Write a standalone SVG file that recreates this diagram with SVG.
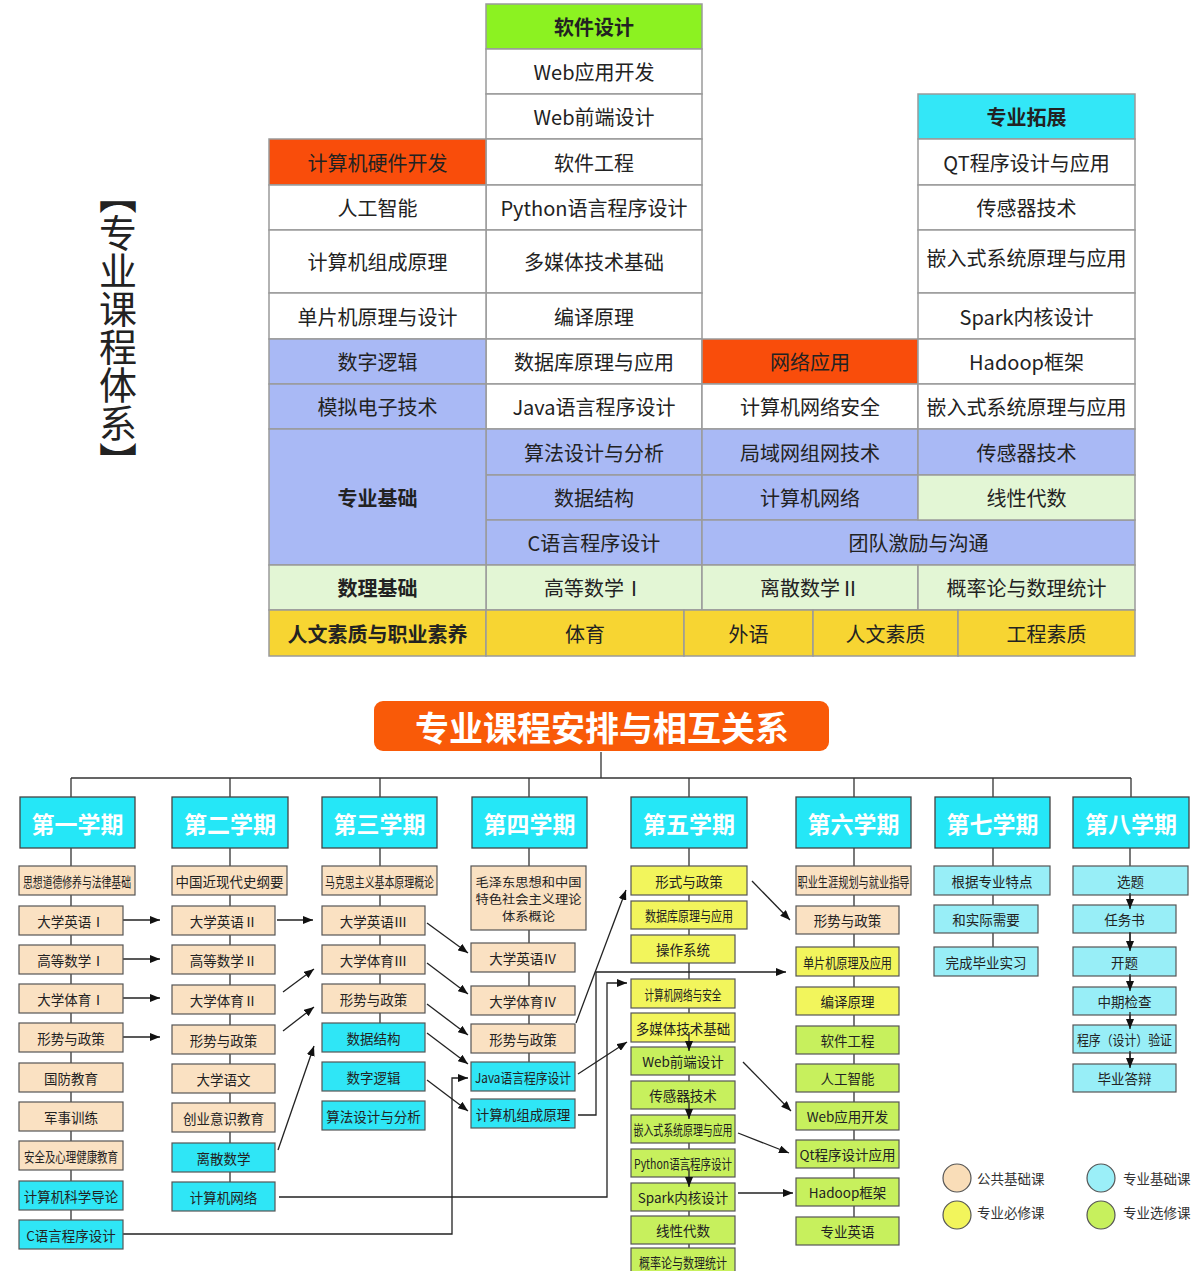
<svg xmlns="http://www.w3.org/2000/svg" width="1200" height="1271" viewBox="0 0 1200 1271">
<style>
text{font-family:"Noto Sans CJK SC","Noto Sans",sans-serif;fill:#222;text-anchor:middle;dominant-baseline:central}
.tc{stroke:#9a9a9a;stroke-width:1.5}
.tt{font-size:20px}
.th{font-size:20px;font-weight:bold}
.w{fill:#fff}.g{fill:#8cf221}.o{fill:#f94d0b}.c{fill:#33e7f7}.b{fill:#a9b9f5}.lg{fill:#e3f6d5}.y{fill:#f7d532}
.bx{stroke:#555;stroke-width:1.2}
.pe{fill:#fae1c2}.cy{fill:#2fe6f6}.lc{fill:#98eef7}.ye{fill:#f2f55c}.gr{fill:#c7f05d}
.sm{font-size:13.5px}
.ml{font-size:12px}
.sem{fill:#25e7f7;stroke:#444;stroke-width:1.3}
.st{font-size:23px;font-weight:bold;fill:#fff}
.ln{fill:none;stroke:#333;stroke-width:1.3}
.ar{fill:none;stroke:#222;stroke-width:1.3;marker-end:url(#ah)}
.lgt{font-size:13.5px;fill:#333;text-anchor:start}
</style>
<defs>
<marker id="ah" viewBox="0 0 10 8" refX="10" refY="4" markerWidth="10" markerHeight="8" markerUnits="userSpaceOnUse" orient="auto"><path d="M0,0 L10,4 L0,8 z" fill="#111"/></marker>
</defs>
<rect width="1200" height="1271" fill="#fff"/>

<g id="title-vertical">
<text x="118" y="176" style="writing-mode:vertical-rl;text-anchor:start" font-size="38" fill="#111">【专业课程体系】</text>
</g>

<g id="table">
<g id="colB">
<rect class="tc g" x="486" y="4" width="216" height="45"/><text class="th" x="594" y="26.5">软件设计</text>
<rect class="tc w" x="486" y="49" width="216" height="45"/><text class="tt" x="594" y="71.5">Web应用开发</text>
<rect class="tc w" x="486" y="94" width="216" height="45"/><text class="tt" x="594" y="116.5">Web前端设计</text>
<rect class="tc w" x="486" y="139" width="216" height="46"/><text class="tt" x="594" y="162">软件工程</text>
<rect class="tc w" x="486" y="185" width="216" height="45"/><text class="tt" x="594" y="207.5">Python语言程序设计</text>
<rect class="tc w" x="486" y="230" width="216" height="63"/><text class="tt" x="594" y="261.5">多媒体技术基础</text>
<rect class="tc w" x="486" y="293" width="216" height="46"/><text class="tt" x="594" y="316">编译原理</text>
<rect class="tc w" x="486" y="339" width="216" height="45"/><text class="tt" x="594" y="361.5">数据库原理与应用</text>
<rect class="tc w" x="486" y="384" width="216" height="45"/><text class="tt" x="594" y="406.5">Java语言程序设计</text>
<rect class="tc b" x="486" y="429" width="216" height="46"/><text class="tt" x="594" y="452">算法设计与分析</text>
<rect class="tc b" x="486" y="475" width="216" height="45"/><text class="tt" x="594" y="497.5">数据结构</text>
<rect class="tc b" x="486" y="520" width="216" height="45"/><text class="tt" x="594" y="542.5">C语言程序设计</text>
<rect class="tc lg" x="486" y="565" width="216" height="45"/><text class="tt" x="594" y="587.5">高等数学Ⅰ</text>
</g>
<g id="colA">
<rect class="tc o" x="269" y="139" width="217" height="46"/><text class="tt" x="377.5" y="162">计算机硬件开发</text>
<rect class="tc w" x="269" y="185" width="217" height="45"/><text class="tt" x="377.5" y="207.5">人工智能</text>
<rect class="tc w" x="269" y="230" width="217" height="63"/><text class="tt" x="377.5" y="261.5">计算机组成原理</text>
<rect class="tc w" x="269" y="293" width="217" height="46"/><text class="tt" x="377.5" y="316">单片机原理与设计</text>
<rect class="tc b" x="269" y="339" width="217" height="45"/><text class="tt" x="377.5" y="361.5">数字逻辑</text>
<rect class="tc b" x="269" y="384" width="217" height="45"/><text class="tt" x="377.5" y="406.5">模拟电子技术</text>
<rect class="tc b" x="269" y="429" width="217" height="136"/><text class="th" x="377.5" y="497">专业基础</text>
<rect class="tc lg" x="269" y="565" width="217" height="45"/><text class="th" x="377.5" y="587.5">数理基础</text>
</g>
<g id="colC">
<rect class="tc o" x="702" y="339" width="216" height="45"/><text class="tt" x="810" y="361.5">网络应用</text>
<rect class="tc w" x="702" y="384" width="216" height="45"/><text class="tt" x="810" y="406.5">计算机网络安全</text>
<rect class="tc b" x="702" y="429" width="216" height="46"/><text class="tt" x="810" y="452">局域网组网技术</text>
<rect class="tc b" x="702" y="475" width="216" height="45"/><text class="tt" x="810" y="497.5">计算机网络</text>
<rect class="tc b" x="702" y="520" width="433" height="45"/><text class="tt" x="918.5" y="542.5">团队激励与沟通</text>
<rect class="tc lg" x="702" y="565" width="216" height="45"/><text class="tt" x="810" y="587.5">离散数学Ⅱ</text>
</g>
<g id="colD">
<rect class="tc c" x="918" y="94" width="217" height="45"/><text class="th" x="1026.5" y="116.5">专业拓展</text>
<rect class="tc w" x="918" y="139" width="217" height="46"/><text class="tt" x="1026.5" y="162">QT程序设计与应用</text>
<rect class="tc w" x="918" y="185" width="217" height="45"/><text class="tt" x="1026.5" y="207.5">传感器技术</text>
<rect class="tc w" x="918" y="230" width="217" height="63"/><text class="tt" x="1026.5" y="257">嵌入式系统原理与应用</text>
<rect class="tc w" x="918" y="293" width="217" height="46"/><text class="tt" x="1026.5" y="316">Spark内核设计</text>
<rect class="tc w" x="918" y="339" width="217" height="45"/><text class="tt" x="1026.5" y="361.5">Hadoop框架</text>
<rect class="tc w" x="918" y="384" width="217" height="45"/><text class="tt" x="1026.5" y="406.5">嵌入式系统原理与应用</text>
<rect class="tc b" x="918" y="429" width="217" height="46"/><text class="tt" x="1026.5" y="452">传感器技术</text>
<rect class="tc lg" x="918" y="475" width="217" height="45"/><text class="tt" x="1026.5" y="497.5">线性代数</text>
<rect class="tc lg" x="918" y="565" width="217" height="45"/><text class="tt" x="1026.5" y="587.5">概率论与数理统计</text>
</g>
<g id="rowBottom">
<rect class="tc y" x="269" y="610" width="217" height="46"/><text class="th" x="377.5" y="633">人文素质与职业素养</text>
<rect class="tc y" x="486" y="610" width="198" height="46"/><text class="tt" x="585" y="633">体育</text>
<rect class="tc y" x="684" y="610" width="129" height="46"/><text class="tt" x="748.5" y="633">外语</text>
<rect class="tc y" x="813" y="610" width="145" height="46"/><text class="tt" x="885.5" y="633">人文素质</text>
<rect class="tc y" x="958" y="610" width="177" height="46"/><text class="tt" x="1046.5" y="633">工程素质</text>
</g>
</g>

<g id="connectors">
<path class="ln" d="M601,752V778M71,778H1131M71,778V797M230,778V797M380,778V797M529,778V797M689,778V797M854,778V797M993,778V797M1131,778V797"/>
<path class="ln" d="M71,848V1220M230,848V1182M380,848V1023M529,848V1062M689,848V1248M854,848V1217M993,848V947M1130,848V866"/>
<path class="ar" d="M123,920H160"/>
<path class="ar" d="M123,959H160"/>
<path class="ar" d="M123,998H160"/>
<path class="ar" d="M123,1037H160"/>
<path class="ar" d="M277,920H313"/>
<path class="ar" d="M283,992L314,969"/>
<path class="ar" d="M283,1031L314,1007"/>
<path class="ar" d="M278,1150L314,1046"/>
<path class="ar" d="M279,1197H607V983H627"/>
<path class="ar" d="M123,1234H452V1078H468"/>
<path class="ar" d="M427,923L468,953"/>
<path class="ar" d="M427,963L468,994"/>
<path class="ar" d="M427,1004L468,1035"/>
<path class="ar" d="M427,1033L468,1064"/>
<path class="ar" d="M427,1080L468,1111"/>
<path class="ar" d="M576,1023L626,890"/>
<path class="ar" d="M578,1074L627,1042"/>
<path class="ar" d="M578,1115H596V972H786"/>
<path class="ar" d="M752,881L790,920"/>
<path class="ar" d="M743,1062L791,1111"/>
<path class="ar" d="M738,1133L789,1153"/>
<path class="ar" d="M738,1193H793"/>
<path class="ln" d="M1130,895V905M1130,933V947M1130,976V987M1130,1015V1025M1130,1053V1064"/>
</g>

<g id="title2">
<rect x="374" y="701" width="455" height="50" rx="9" fill="#f95a08"/>
<text x="602" y="726" font-size="34" font-weight="bold" style="fill:#fff">专业课程安排与相互关系</text>
</g>

<g id="semesters">
<g id="s1"><rect class="sem" x="20" y="797" width="115" height="51"/><text class="st" x="77.5" y="823">第一学期</text></g>
<g id="s2"><rect class="sem" x="172" y="797" width="116" height="51"/><text class="st" x="230" y="823">第二学期</text></g>
<g id="s3"><rect class="sem" x="322" y="797" width="115" height="51"/><text class="st" x="379.5" y="823">第三学期</text></g>
<g id="s4"><rect class="sem" x="472" y="797" width="115" height="51"/><text class="st" x="529.5" y="823">第四学期</text></g>
<g id="s5"><rect class="sem" x="631" y="797" width="116" height="51"/><text class="st" x="689" y="823">第五学期</text></g>
<g id="s6"><rect class="sem" x="796" y="797" width="115" height="51"/><text class="st" x="853.5" y="823">第六学期</text></g>
<g id="s7"><rect class="sem" x="935" y="797" width="115" height="51"/><text class="st" x="992.5" y="823">第七学期</text></g>
<g id="s8"><rect class="sem" x="1073" y="797" width="116" height="51"/><text class="st" x="1131" y="823">第八学期</text></g>
</g>

<g id="col1">
<g id="c1-1"><rect class="bx pe" x="19" y="866" width="116" height="29"/><text class="sm" x="77" y="880.5" textLength="108" lengthAdjust="spacingAndGlyphs">思想道德修养与法律基础</text></g>
<g id="c1-2"><rect class="bx pe" x="19" y="906" width="104" height="29"/><text class="sm" x="71" y="920.5">大学英语Ⅰ</text></g>
<g id="c1-3"><rect class="bx pe" x="19" y="945" width="104" height="29"/><text class="sm" x="71" y="959.5">高等数学Ⅰ</text></g>
<g id="c1-4"><rect class="bx pe" x="19" y="984" width="104" height="29"/><text class="sm" x="71" y="998.5">大学体育Ⅰ</text></g>
<g id="c1-5"><rect class="bx pe" x="19" y="1023" width="104" height="29"/><text class="sm" x="71" y="1037.5">形势与政策</text></g>
<g id="c1-6"><rect class="bx pe" x="19" y="1063" width="104" height="29"/><text class="sm" x="71" y="1077.5">国防教育</text></g>
<g id="c1-7"><rect class="bx pe" x="19" y="1102" width="104" height="29"/><text class="sm" x="71" y="1116.5">军事训练</text></g>
<g id="c1-8"><rect class="bx pe" x="19" y="1141" width="104" height="29"/><text class="sm" x="71" y="1155.5" textLength="94" lengthAdjust="spacingAndGlyphs">安全及心理健康教育</text></g>
<g id="c1-9"><rect class="bx cy" x="19" y="1181" width="104" height="29"/><text class="sm" x="71" y="1195.5">计算机科学导论</text></g>
<g id="c1-10"><rect class="bx cy" x="19" y="1220" width="104" height="29"/><text class="sm" x="71" y="1234.5">C语言程序设计</text></g>
</g>

<g id="col2">
<g id="c2-1"><rect class="bx pe" x="172" y="866" width="115" height="29"/><text class="sm" x="229.5" y="880.5">中国近现代史纲要</text></g>
<g id="c2-2"><rect class="bx pe" x="172" y="906" width="103" height="29"/><text class="sm" x="223.5" y="920.5">大学英语Ⅱ</text></g>
<g id="c2-3"><rect class="bx pe" x="172" y="945" width="103" height="29"/><text class="sm" x="223.5" y="959.5">高等数学Ⅱ</text></g>
<g id="c2-4"><rect class="bx pe" x="172" y="985" width="103" height="29"/><text class="sm" x="223.5" y="999.5">大学体育Ⅱ</text></g>
<g id="c2-5"><rect class="bx pe" x="172" y="1025" width="103" height="29"/><text class="sm" x="223.5" y="1039.5">形势与政策</text></g>
<g id="c2-6"><rect class="bx pe" x="172" y="1064" width="103" height="29"/><text class="sm" x="223.5" y="1078.5">大学语文</text></g>
<g id="c2-7"><rect class="bx pe" x="172" y="1103" width="103" height="29"/><text class="sm" x="223.5" y="1117.5">创业意识教育</text></g>
<g id="c2-8"><rect class="bx cy" x="172" y="1143" width="103" height="29"/><text class="sm" x="223.5" y="1157.5">离散数学</text></g>
<g id="c2-9"><rect class="bx cy" x="172" y="1182" width="103" height="29"/><text class="sm" x="223.5" y="1196.5">计算机网络</text></g>
</g>

<g id="col3">
<g id="c3-1"><rect class="bx pe" x="322" y="866" width="115" height="29"/><text class="sm" x="379.5" y="880.5" textLength="109" lengthAdjust="spacingAndGlyphs">马克思主义基本原理概论</text></g>
<g id="c3-2"><rect class="bx pe" x="322" y="906" width="103" height="29"/><text class="sm" x="373.5" y="920.5">大学英语Ⅲ</text></g>
<g id="c3-3"><rect class="bx pe" x="322" y="945" width="103" height="29"/><text class="sm" x="373.5" y="959.5">大学体育Ⅲ</text></g>
<g id="c3-4"><rect class="bx pe" x="322" y="984" width="103" height="29"/><text class="sm" x="373.5" y="998.5">形势与政策</text></g>
<g id="c3-5"><rect class="bx cy" x="322" y="1023" width="103" height="29"/><text class="sm" x="373.5" y="1037.5">数据结构</text></g>
<g id="c3-6"><rect class="bx cy" x="322" y="1062" width="103" height="29"/><text class="sm" x="373.5" y="1076.5">数字逻辑</text></g>
<g id="c3-7"><rect class="bx cy" x="322" y="1101" width="103" height="29"/><text class="sm" x="373.5" y="1115.5">算法设计与分析</text></g>
</g>

<g id="col4">
<g id="c4-1"><rect class="bx pe" x="471" y="866" width="115" height="64"/><text class="ml" x="528.5" y="881" textLength="106" lengthAdjust="spacingAndGlyphs">毛泽东思想和中国</text><text class="ml" x="528.5" y="898" textLength="106" lengthAdjust="spacingAndGlyphs">特色社会主义理论</text><text class="ml" x="528.5" y="915" textLength="53" lengthAdjust="spacingAndGlyphs">体系概论</text></g>
<g id="c4-2"><rect class="bx pe" x="471" y="943" width="104" height="29"/><text class="sm" x="523" y="957.5">大学英语Ⅳ</text></g>
<g id="c4-3"><rect class="bx pe" x="471" y="986" width="104" height="29"/><text class="sm" x="523" y="1000.5">大学体育Ⅳ</text></g>
<g id="c4-4"><rect class="bx pe" x="471" y="1024" width="104" height="29"/><text class="sm" x="523" y="1038.5">形势与政策</text></g>
<g id="c4-5"><rect class="bx cy" x="471" y="1062" width="104" height="29"/><text class="sm" x="523" y="1076.5" textLength="96" lengthAdjust="spacingAndGlyphs">Java语言程序设计</text></g>
<g id="c4-6"><rect class="bx cy" x="471" y="1099" width="104" height="29"/><text class="sm" x="523" y="1113.5">计算机组成原理</text></g>
</g>

<g id="col5">
<g id="c5-1"><rect class="bx ye" x="631" y="866" width="116" height="29"/><text class="sm" x="689" y="880.5">形式与政策</text></g>
<g id="c5-2"><rect class="bx ye" x="631" y="901" width="116" height="28"/><text class="sm" x="689" y="915" textLength="88" lengthAdjust="spacingAndGlyphs">数据库原理与应用</text></g>
<g id="c5-3"><rect class="bx ye" x="631" y="935" width="104" height="28"/><text class="sm" x="683" y="949">操作系统</text></g>
<g id="c5-4"><rect class="bx ye" x="631" y="979" width="104" height="29"/><text class="sm" x="683" y="993.5" textLength="77" lengthAdjust="spacingAndGlyphs">计算机网络与安全</text></g>
<g id="c5-5"><rect class="bx ye" x="631" y="1013" width="104" height="29"/><text class="sm" x="683" y="1027.5">多媒体技术基础</text></g>
<g id="c5-6"><rect class="bx gr" x="631" y="1047" width="104" height="28"/><text class="sm" x="683" y="1061">Web前端设计</text></g>
<g id="c5-7"><rect class="bx gr" x="631" y="1081" width="104" height="28"/><text class="sm" x="683" y="1095">传感器技术</text></g>
<g id="c5-8"><rect class="bx gr" x="631" y="1115" width="104" height="28"/><text class="sm" x="683" y="1129" textLength="99" lengthAdjust="spacingAndGlyphs">嵌入式系统原理与应用</text></g>
<g id="c5-9"><rect class="bx gr" x="631" y="1149" width="104" height="28"/><text class="sm" x="683" y="1163" textLength="98" lengthAdjust="spacingAndGlyphs">Python语言程序设计</text></g>
<g id="c5-10"><rect class="bx gr" x="631" y="1183" width="104" height="28"/><text class="sm" x="683" y="1197">Spark内核设计</text></g>
<g id="c5-11"><rect class="bx gr" x="631" y="1216" width="104" height="28"/><text class="sm" x="683" y="1230">线性代数</text></g>
<g id="c5-12"><rect class="bx gr" x="631" y="1248" width="104" height="28"/><text class="sm" x="683" y="1262" textLength="88" lengthAdjust="spacingAndGlyphs">概率论与数理统计</text></g>
</g>

<g id="col6">
<g id="c6-1"><rect class="bx pe" x="796" y="866" width="115" height="29"/><text class="sm" x="853.5" y="880.5" textLength="112" lengthAdjust="spacingAndGlyphs">职业生涯规划与就业指导</text></g>
<g id="c6-2"><rect class="bx pe" x="796" y="906" width="103" height="28"/><text class="sm" x="847.5" y="920">形势与政策</text></g>
<g id="c6-3"><rect class="bx ye" x="796" y="947" width="103" height="29"/><text class="sm" x="847.5" y="961.5" textLength="89" lengthAdjust="spacingAndGlyphs">单片机原理及应用</text></g>
<g id="c6-4"><rect class="bx ye" x="796" y="987" width="103" height="28"/><text class="sm" x="847.5" y="1001">编译原理</text></g>
<g id="c6-5"><rect class="bx gr" x="796" y="1026" width="103" height="28"/><text class="sm" x="847.5" y="1040">软件工程</text></g>
<g id="c6-6"><rect class="bx gr" x="796" y="1064" width="103" height="28"/><text class="sm" x="847.5" y="1078">人工智能</text></g>
<g id="c6-7"><rect class="bx gr" x="796" y="1102" width="103" height="28"/><text class="sm" x="847.5" y="1116">Web应用开发</text></g>
<g id="c6-8"><rect class="bx gr" x="796" y="1140" width="103" height="28"/><text class="sm" x="847.5" y="1154">Qt程序设计应用</text></g>
<g id="c6-9"><rect class="bx gr" x="796" y="1178" width="103" height="28"/><text class="sm" x="847.5" y="1192">Hadoop框架</text></g>
<g id="c6-10"><rect class="bx gr" x="796" y="1217" width="103" height="28"/><text class="sm" x="847.5" y="1231">专业英语</text></g>
</g>

<g id="col7">
<g id="c7-1"><rect class="bx lc" x="934" y="866" width="116" height="29"/><text class="sm" x="992" y="880.5">根据专业特点</text></g>
<g id="c7-2"><rect class="bx lc" x="934" y="905" width="104" height="28"/><text class="sm" x="986" y="919">和实际需要</text></g>
<g id="c7-3"><rect class="bx lc" x="934" y="947" width="104" height="29"/><text class="sm" x="986" y="961.5">完成毕业实习</text></g>
</g>

<g id="col8">
<g id="c8-1"><rect class="bx lc" x="1073" y="866" width="115" height="29"/><text class="sm" x="1130.5" y="880.5">选题</text></g>
<g id="c8-2"><rect class="bx lc" x="1073" y="905" width="103" height="28"/><text class="sm" x="1124.5" y="919">任务书</text></g>
<g id="c8-3"><rect class="bx lc" x="1073" y="947" width="103" height="29"/><text class="sm" x="1124.5" y="961.5">开题</text></g>
<g id="c8-4"><rect class="bx lc" x="1073" y="987" width="103" height="28"/><text class="sm" x="1124.5" y="1001">中期检查</text></g>
<g id="c8-5"><rect class="bx lc" x="1073" y="1025" width="103" height="28"/><text class="sm" x="1124.5" y="1039" textLength="95" lengthAdjust="spacingAndGlyphs">程序（设计）验证</text></g>
<g id="c8-6"><rect class="bx lc" x="1073" y="1064" width="103" height="28"/><text class="sm" x="1124.5" y="1078">毕业答辩</text></g>
</g>

<g id="arrows-over">
<path class="ar" d="M689,1032V1051"/>
<path class="ar" d="M689,1100V1119"/>
<path class="ar" d="M689,1168V1187"/>
<path class="ar" d="M1130,893V909"/>
<path class="ar" d="M1130,932V951"/>
<path class="ar" d="M1130,974V991"/>
<path class="ar" d="M1130,1012V1029"/>
<path class="ar" d="M1130,1051V1068"/>
</g>

<g id="legend">
<circle cx="957" cy="1178" r="14" fill="#f9ddb8" stroke="#555" stroke-width="1.2"/><text class="lgt" x="977" y="1178">公共基础课</text>
<circle cx="1101" cy="1178" r="14" fill="#9beff8" stroke="#555" stroke-width="1.2"/><text class="lgt" x="1123" y="1178">专业基础课</text>
<circle cx="957" cy="1215" r="14" fill="#f2f55c" stroke="#555" stroke-width="1.2"/><text class="lgt" x="977" y="1212">专业必修课</text>
<circle cx="1101" cy="1215" r="14" fill="#c7f05d" stroke="#555" stroke-width="1.2"/><text class="lgt" x="1123" y="1212">专业选修课</text>
</g>
</svg>
